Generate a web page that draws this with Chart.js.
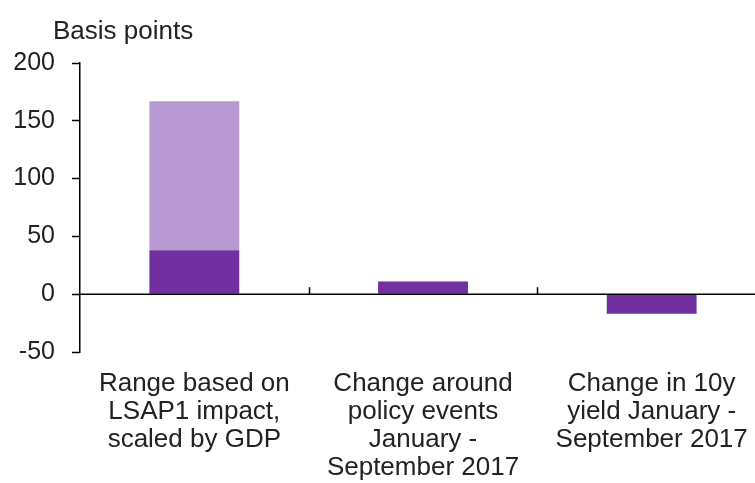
<!DOCTYPE html>
<html>
<head>
  <meta charset="UTF-8">
  <title>Basis points</title>
  <script src="https://cdn.jsdelivr.net/npm/chart.js@4.4.1/dist/chart.umd.min.js"></script>
  <style>
    html, body { margin: 0; padding: 0; background: #fff; overflow: hidden; }
    #wrap { width: 755px; height: 483px; overflow: hidden; }
  </style>
</head>
<body>
<div id="wrap">
  <canvas id="myChart" width="775" height="483"></canvas>
</div>
<script>
  // categories and values
  var categories = [
    ["Range based on", "LSAP1 impact,", "scaled by GDP"],
    ["Change around", "policy events", "January -", "September 2017"],
    ["Change in 10y", "yield January -", "September 2017"]
  ];
  var lowerValues = [38, 11, -17];   // dark purple
  var upperValues = [129, 0, 0];     // light purple, stacked on top (range up to ~167)
  var yTicks = { min: -50, max: 200, step: 50 };
  var axisTitle = "Basis points";

  var FONT = "'Liberation Sans', Arial, sans-serif";

  // zero line + category boundary tick marks, and the "Basis points" label
  var extras = {
    id: "extras",
    afterDatasetsDraw: function(chart) {
      var ctx = chart.ctx, area = chart.chartArea;
      var x = chart.scales.x, y = chart.scales.y;
      var y0 = y.getPixelForValue(0);
      ctx.save();
      ctx.strokeStyle = "#000";
      ctx.lineWidth = 1.5;
      ctx.beginPath();
      ctx.moveTo(area.left, y0);
      ctx.lineTo(area.right, y0);
      for (var i = 0; i < categories.length - 1; i++) {
        var bx = Math.round((x.getPixelForValue(i) + x.getPixelForValue(i + 1)) / 2) + 0.5;
        ctx.moveTo(bx, y0);
        ctx.lineTo(bx, y0 - 7);
      }
      ctx.stroke();

      ctx.fillStyle = "#222";
      ctx.font = "26px " + FONT;
      ctx.textAlign = "left";
      ctx.textBaseline = "alphabetic";
      ctx.fillText(axisTitle, area.left - 27, 39);
      ctx.restore();
    }
  };

  new Chart(document.getElementById("myChart"), {
    type: "bar",
    data: {
      labels: categories,
      datasets: [{
        data: lowerValues,
        backgroundColor: "#7030A0",
        borderWidth: 0
      }, {
        data: upperValues,
        backgroundColor: "#B899D1",
        borderWidth: 0
      }]
    },
    options: {
      responsive: false,
      animation: false,
      devicePixelRatio: 1,
      categoryPercentage: 1,
      barPercentage: 0.393,
      layout: { padding: { left: 13, top: 63, right: 9, bottom: 2 } },
      plugins: {
        legend: { display: false },
        tooltip: { enabled: false }
      },
      scales: {
        x: {
          stacked: true,
          grid: { display: false },
          border: { display: false },
          ticks: {
            color: "#222",
            padding: 10,
            maxRotation: 0,
            autoSkip: false,
            font: { family: FONT, size: 26, lineHeight: 1.08 }
          },
          afterFit: function(scale) {
            scale.height = 129;
            scale.paddingLeft = 0;
            scale.paddingRight = 0;
          }
        },
        y: {
          stacked: true,
          min: yTicks.min,
          max: yTicks.max,
          grid: {
            display: true,
            drawOnChartArea: false,
            drawTicks: true,
            tickLength: 8,
            tickColor: "#000",
            tickWidth: 1.5
          },
          border: { display: true, color: "#000", width: 1.5 },
          ticks: {
            stepSize: yTicks.step,
            color: "#222",
            padding: 17,
            font: { family: FONT, size: 25 }
          },
          afterFit: function(scale) {
            scale.width = 67;
          }
        }
      }
    },
    plugins: [extras]
  });
</script>
</body>
</html>
